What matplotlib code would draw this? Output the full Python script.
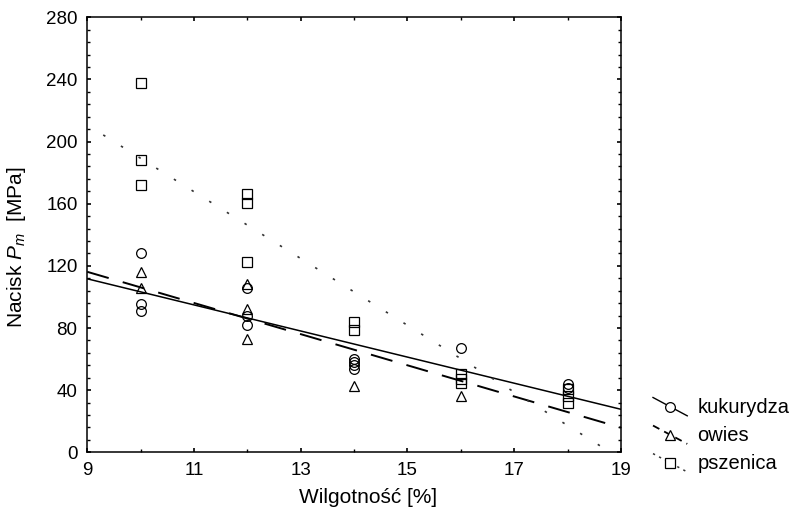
import matplotlib

matplotlib.use("Agg")

import matplotlib.pyplot as plt
from matplotlib.legend_handler import HandlerLine2D
from matplotlib.lines import Line2D
from matplotlib.ticker import MultipleLocator

plt.rcParams.update(
    {
        "font.family": "sans-serif",
        "font.sans-serif": ["Liberation Sans"],
        "mathtext.fontset": "custom",
        "mathtext.rm": "Liberation Sans",
        "mathtext.it": "Liberation Sans:italic",
        "font.size": 13,
    }
)

# punkty pomiarowe
kuk_x = [10, 10, 10, 12, 12, 12, 14, 14, 14, 14, 16, 18, 18]
kuk_y = [128, 95.5, 91, 106, 88, 82, 60, 58, 56, 53.5, 67, 44, 41.5]

owies_x = [10, 10, 12, 12, 12, 14, 16]
owies_y = [116, 105.5, 108.5, 92.5, 73, 43, 36.5]

psz_x = [10, 10, 10, 12, 12, 12, 14, 14, 16, 16, 16, 18, 18, 18]
psz_y = [237.5, 188, 172, 166, 160.5, 122.5, 84, 79, 50.5, 47.5, 44.5, 41, 36, 31.5]

# proste regresji (końce odcinków)
kuk_fit_x = [9, 19]
kuk_fit_y = [111.7, 27.7]
owies_fit_x = [9, 19]
owies_fit_y = [116.2, 15.9]
psz_fit_x = [9.3, 19]
psz_fit_y = [204.3, -4.2]

labels = ["kukurydza", "owies", "pszenica"]


class SlantedHandler(HandlerLine2D):
    """Legenda w stylu Statistica: ukośna kreska z markerem pośrodku."""

    def create_artists(self, legend, orig_handle, xdescent, ydescent,
                       width, height, fontsize, trans):
        top = height * 1.1
        bottom = -height * 0.2
        line = Line2D([-xdescent, width - xdescent], [top, bottom])
        self.update_prop(line, orig_handle, legend)
        line.set_marker("")
        mark = Line2D([(width - xdescent) / 2], [(top + bottom) / 2])
        self.update_prop(mark, orig_handle, legend)
        mark.set_linestyle("")
        line.set_transform(trans)
        mark.set_transform(trans)
        return [line, mark]


fig = plt.figure(figsize=(7.93, 5.16), dpi=100)
ax = fig.add_axes([0.110, 0.1234, 0.673, 0.843])

mk = dict(linestyle="", markerfacecolor="none", markeredgecolor="black",
          markersize=7, markeredgewidth=0.9, zorder=3)

ax.plot(kuk_fit_x, kuk_fit_y, color="black", lw=1.1, zorder=2)
ax.plot(owies_fit_x, owies_fit_y, color="black", lw=1.4,
        dashes=(11.5, 7.5), zorder=2)
ax.plot(psz_fit_x, psz_fit_y, color="#333333", lw=1.2,
        dashes=(1.5, 11), zorder=2)

ax.plot(kuk_x, kuk_y, marker="o", **mk)
ax.plot(owies_x, owies_y, marker="^", **mk)
ax.plot(psz_x, psz_y, marker="s", **mk)

ax.set_xlim(9, 19)
ax.set_ylim(0, 280)
ax.set_xticks(range(9, 20, 2))
ax.set_yticks(range(0, 281, 40))
ax.xaxis.set_minor_locator(MultipleLocator(1))
ax.yaxis.set_minor_locator(MultipleLocator(8))
ax.tick_params(which="both", direction="in", top=True, right=True,
               labelsize=13.5)
ax.tick_params(which="major", length=3, width=1.2, pad=7)
ax.tick_params(which="minor", length=2.5, width=1.0)
for sp in ax.spines.values():
    sp.set_linewidth(1.1)

ax.set_xlabel("Wilgotność [%]", fontsize=15)
ax.set_ylabel("Nacisk $P_m$  [MPa]", fontsize=15)
ax.xaxis.set_label_coords(0.527, -0.083)
ax.yaxis.set_label_coords(-0.111, 0.471)

handles = [
    Line2D([], [], color="black", lw=1.0, marker="o", markerfacecolor="white",
           markeredgecolor="black", markersize=7, markeredgewidth=0.9),
    Line2D([], [], color="black", lw=1.3, dashes=(4, 3), marker="^",
           markerfacecolor="white", markeredgecolor="black", markersize=7,
           markeredgewidth=0.9),
    Line2D([], [], color="#333333", lw=1.1, dashes=(1.5, 3), marker="s",
           markerfacecolor="white", markeredgecolor="black", markersize=7,
           markeredgewidth=0.9),
]
fig.legend(handles, labels,
           loc="upper left", bbox_to_anchor=(653 / 793, (516 - 398) / 516),
           frameon=False, fontsize=14.5, handlelength=1.7,
           handletextpad=0.5, labelspacing=0.45, borderpad=0,
           borderaxespad=0,
           handler_map={Line2D: SlantedHandler()})

fig.savefig("out.png", dpi=100, facecolor="white")
